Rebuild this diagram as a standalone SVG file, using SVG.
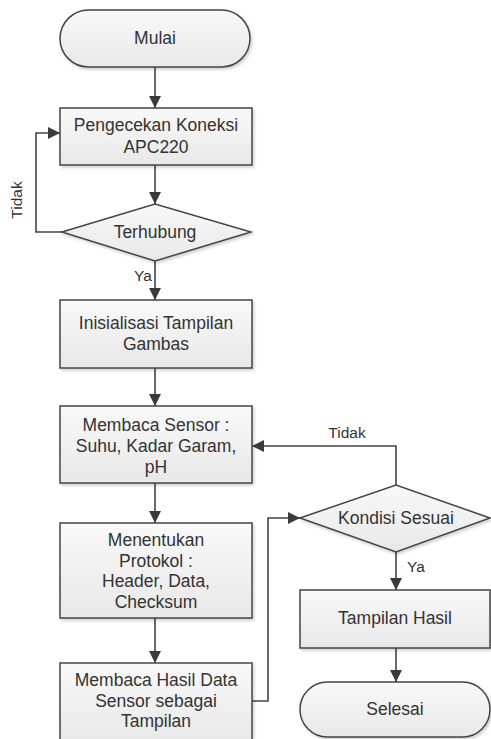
<svg xmlns="http://www.w3.org/2000/svg" width="491" height="739" viewBox="0 0 491 739">
<defs>
<linearGradient id="g" x1="0" y1="0" x2="0" y2="1">
<stop offset="0" stop-color="#f9f9f9"/>
<stop offset="1" stop-color="#e8e8e8"/>
</linearGradient>
<filter id="sh" x="-10%" y="-10%" width="120%" height="130%">
<feDropShadow dx="1.5" dy="2" stdDeviation="1.5" flood-color="#000" flood-opacity="0.18"/>
</filter>
<marker id="arr" viewBox="0 0 12 12" refX="12" refY="6" markerWidth="12" markerHeight="12" markerUnits="userSpaceOnUse" orient="auto">
<path d="M0,0 L12,6 L0,12 Z" fill="#3a3a3a"/>
</marker>
</defs>
<style>
.n{fill:url(#g);stroke:#444;stroke-width:1.5;filter:url(#sh)}
.c{fill:none;stroke:#444;stroke-width:1.6;marker-end:url(#arr)}
text{font-family:"Liberation Sans",Arial,sans-serif;font-size:17.5px;fill:#333;text-anchor:middle}
.l{font-size:15.5px}
</style>
<rect width="491" height="739" fill="#fff"/>
<g id="connectors">
<path class="c" d="M155,67 V108"/>
<path class="c" d="M155,165 V204"/>
<path class="c" d="M62,232 H36 V133 H60"/>
<path class="c" d="M155,261 V300"/>
<path class="c" d="M155,368 V406"/>
<path class="c" d="M155,483 V523"/>
<path class="c" d="M155,618 V663"/>
<path class="c" d="M252,701 H268 V518 H300"/>
<path class="c" d="M396,485 V446 H252"/>
<path class="c" d="M396,552 V590"/>
<path class="c" d="M396,648 V682"/>
<text class="l" transform="translate(22,200) rotate(-90)">Tidak</text>
<text class="l" x="143" y="281">Ya</text>
<text class="l" x="347" y="438">Tidak</text>
<text class="l" x="416" y="572">Ya</text>
</g>
<g id="mulai">
<rect class="n" x="60" y="10" width="190" height="57" rx="28.5"/>
<text x="155" y="44">Mulai</text>
</g>
<g id="cek">
<rect class="n" x="60" y="108" width="192" height="57"/>
<text x="156" y="131">Pengecekan Koneksi</text>
<text x="156" y="153">APC220</text>
</g>
<g id="terhubung">
<polygon class="n" points="62,232 155,204 251,232 155,261"/>
<text x="155" y="238">Terhubung</text>
</g>
<g id="init">
<rect class="n" x="60" y="300" width="192" height="68"/>
<text x="156" y="329">Inisialisasi Tampilan</text>
<text x="156" y="350">Gambas</text>
</g>
<g id="baca">
<rect class="n" x="60" y="406" width="192" height="77"/>
<text x="156" y="431">Membaca Sensor :</text>
<text x="156" y="452">Suhu, Kadar Garam,</text>
<text x="156" y="473">pH</text>
</g>
<g id="protokol">
<rect class="n" x="60" y="523" width="192" height="95"/>
<text x="156" y="546">Menentukan</text>
<text x="156" y="567">Protokol :</text>
<text x="156" y="587">Header, Data,</text>
<text x="156" y="608">Checksum</text>
</g>
<g id="hasil">
<rect class="n" x="60" y="663" width="192" height="80"/>
<text x="156" y="686">Membaca Hasil Data</text>
<text x="156" y="707">Sensor sebagai</text>
<text x="156" y="727">Tampilan</text>
</g>
<g id="kondisi">
<polygon class="n" points="300,518 396,485 490,518 396,552"/>
<text x="396" y="524">Kondisi Sesuai</text>
</g>
<g id="tampil">
<rect class="n" x="300" y="590" width="190" height="58"/>
<text x="395" y="624">Tampilan Hasil</text>
</g>
<g id="selesai">
<rect class="n" x="300" y="682" width="190" height="55" rx="27.5"/>
<text x="395" y="715">Selesai</text>
</g>
</svg>
